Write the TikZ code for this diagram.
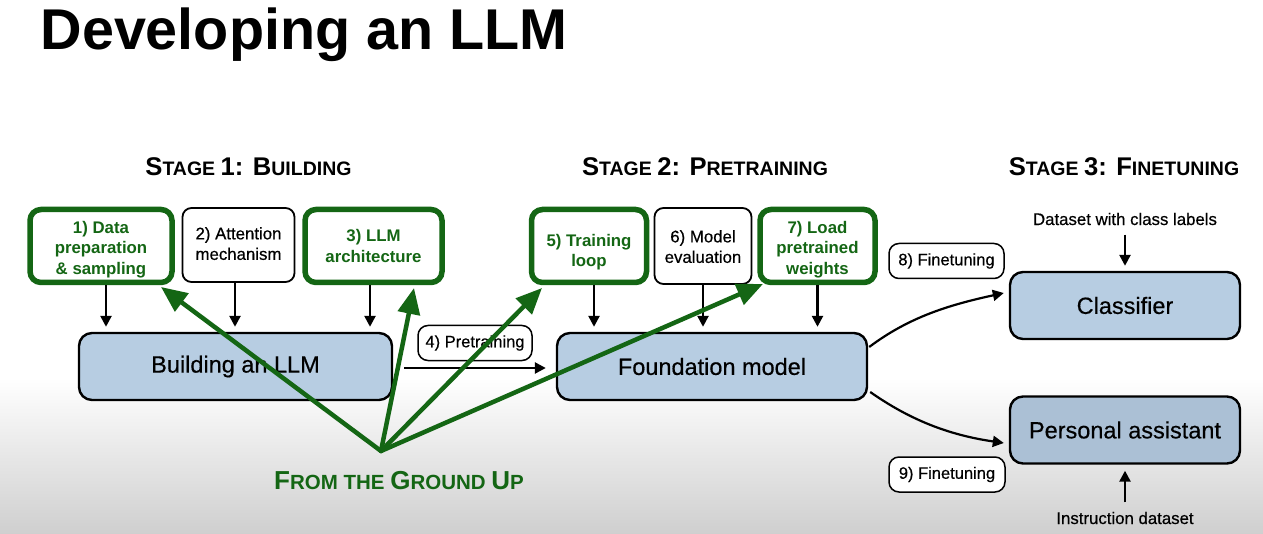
\documentclass[tikz,border=0pt]{standalone}
\usepackage{fontspec}
\setmainfont{Liberation Sans}
\newfontfamily\medfont[FakeBold=0.45]{Liberation Sans}
\usetikzlibrary{arrows.meta}
\definecolor{grn}{RGB}{20,102,20}
\definecolor{bfill}{RGB}{183,205,226}
\definecolor{bfillb}{RGB}{171,192,213}
\definecolor{bggray}{RGB}{207,207,207}
\newcommand\stBig{\fontsize{25.6}{30}\selectfont}
\newcommand\stSm{\fontsize{19.5}{30}\selectfont}
\newcommand\gBig{\fontsize{26}{30}\selectfont}
\newcommand\gSm{\fontsize{20.5}{30}\selectfont}
\newcommand\lowtxt[2]{\raisebox{-#1}[\height][\depth]{\begin{tabular}{@{}c@{}}#2\end{tabular}}}
\begin{document}
\begin{tikzpicture}[x=1pt,y=-1pt,
  stepbox/.style={draw=black,line width=1.8pt,rounded corners=9pt,fill=white,align=center,font=\medfont\fontsize{16.8}{20.5}\selectfont,inner sep=0pt},
  greenbox/.style={draw=grn,line width=5.5pt,rounded corners=11pt,fill=white,align=center,text=grn,font=\bfseries\fontsize{16.8}{20.5}\selectfont,inner sep=0pt},
  bigbox/.style={draw=black,line width=2.4pt,rounded corners=13pt,fill=bfill,font=\medfont\fontsize{23.5}{28}\selectfont,minimum height=67pt,inner sep=0pt},
  tagbox/.style={draw=black,line width=1.5pt,rounded corners=10pt,fill=white,font=\medfont\fontsize{16.5}{20}\selectfont,inner sep=0pt,minimum height=35pt},
  plain/.style={font=\medfont\fontsize{16.8}{20}\selectfont},
  arr/.style={line width=2.5pt,-{Triangle[length=11pt,width=11pt]}},
  garr/.style={draw=grn,line width=4.5pt,line cap=round,-{Triangle[length=26pt,width=22pt]}},
  heading/.style={anchor=base,font=\bfseries},
]
\useasboundingbox (0,0) rectangle (1263,534);
\fill[white] (0,0) rectangle (1263,534);
\shade[top color=white,bottom color=bggray] (0,378) rectangle (1263,534);

\node[anchor=base west,font=\bfseries\fontsize{57.5}{60}\selectfont] (title) at (37,50) {Developing an LLM};

\node[heading] (h1) at (248.5,176) {\stBig S\stSm TAGE \stBig 1: B\stSm UILDING};
\node[heading] (h2) at (705,176) {\stBig S\stSm TAGE \stBig 2: P\stSm RETRAINING};
\node[heading] (h3) at (1124,176) {\stBig S\stSm TAGE \stBig 3: F\stSm INETUNING};

\node[greenbox,minimum width=142pt,minimum height=73pt] (b1) at (101,246) {\lowtxt{3.5pt}{1) Data\\preparation\\\& sampling}};
\node[stepbox,minimum width=112pt,minimum height=74pt] (b2) at (238.5,245) {\lowtxt{0.5pt}{2) Attention\\mechanism}};
\node[greenbox,minimum width=137pt,minimum height=73pt] (b3) at (373.5,246) {3) LLM\\architecture};
\node[bigbox,minimum width=313pt] (bld) at (235.5,366.5) {Building an LLM};

\node[greenbox,minimum width=115pt,minimum height=73pt] (b5) at (589,246) {\lowtxt{6.5pt}{5) Training\\loop}};
\node[stepbox,minimum width=97pt,minimum height=76pt] (b6) at (703,246) {\lowtxt{2.5pt}{6) Model\\evaluation}};
\node[greenbox,minimum width=115pt,minimum height=73pt] (b7) at (817.5,246) {\lowtxt{3.5pt}{7) Load\\pretrained\\weights}};
\node[bigbox,minimum width=310pt] (fm) at (712,366.5) {Foundation model};

\node[tagbox,minimum width=114pt] (pt) at (475,343) {4) Pretraining};
\node[tagbox,minimum width=115pt] (ft8) at (946.5,261) {8) Finetuning};
\node[tagbox,minimum width=116pt] (ft9) at (947,474.5) {9) Finetuning};

\node[bigbox,minimum width=230pt] (cls) at (1125,305.5) {Classifier};
\node[bigbox,minimum width=230pt,fill=bfillb] (pa) at (1125,430) {Personal assistant};
\node[plain] (dsc) at (1125,219) {Dataset with class labels};
\node[plain] (ids) at (1125,518) {Instruction dataset};

\node[heading,text=grn] (fgu) at (399,489) {\gBig F\gSm ROM THE \gBig G\gSm ROUND \gBig U\gSm P};

% black arrows
\draw[arr,shorten >=5pt] ([xshift=5pt]b1.south) -- ([xshift=5pt]b1.south |- bld.north);
\draw[arr,shorten >=5pt] ([xshift=-3.5pt]b2.south) -- ([xshift=-3.5pt]b2.south |- bld.north);
\draw[arr,shorten >=5pt] ([xshift=-3.5pt]b3.south) -- ([xshift=-3.5pt]b3.south |- bld.north);
\draw[arr,shorten >=5pt] ([xshift=5pt]b5.south) -- ([xshift=5pt]b5.south |- fm.north);
\draw[arr,shorten >=5pt] (b6.south) -- (b6.south |- fm.north);
\draw[arr,shorten >=5pt] (b7.south) -- (b7.south |- fm.north);
\draw[arr,shorten <=11pt,shorten >=10pt] ([yshift=-1.5pt]bld.east) -- ([yshift=-1.5pt]fm.west);

\draw[arr,line width=2.2pt] ([shift={(1pt,19.5pt)}]fm.east) .. controls +(40pt,30pt) and +(-55pt,-12pt) .. ([shift={(-5pt,12.5pt)}]cls.west);
\draw[arr,line width=2.2pt] ([shift={(2pt,-25.5pt)}]fm.east) .. controls +(40pt,-28pt) and +(-55pt,8pt) .. ([shift={(-5pt,-13pt)}]pa.west);

\draw[arr,shorten <=6pt,shorten >=5pt] (dsc.south) -- (cls.north);
\draw[arr,shorten <=6pt,shorten >=6pt] (ids.north) -- (pa.south);

% green arrows
\coordinate (apex) at (381,451);
\coordinate (t1) at (161,287);
\coordinate (t3) at (414,288);
\coordinate (t5) at (542,288);
\coordinate (t7) at (763,284);
\draw[garr] (apex) -- (t1);
\draw[garr] (apex) -- (t3);
\draw[garr] (apex) -- (t5);
\draw[garr] (apex) -- (t7);
\end{tikzpicture}
\end{document}
